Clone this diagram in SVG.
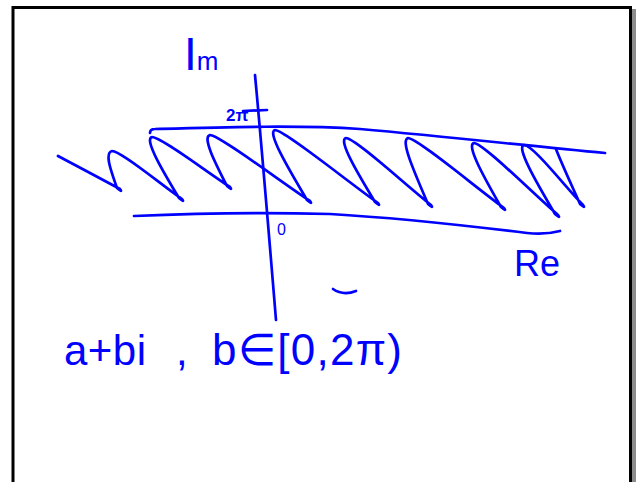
<svg xmlns="http://www.w3.org/2000/svg" width="639" height="482" viewBox="0 0 639 482">
<style>
.ink{fill:none;stroke:#0000ff;stroke-width:2.7;stroke-linecap:round;stroke-linejoin:round}
.hw{fill:#0000ff;font-family:"Liberation Sans","DejaVu Sans",sans-serif}
</style>
<rect width="639" height="482" fill="#ffffff"/>
<g id="frame">
<rect x="632" y="9" width="4" height="473" fill="#8c8c8c"/>
<path d="M13,482 V7.5 H631.5" fill="none" stroke="#000" stroke-width="3"/>
<path d="M630.5,6 V482" fill="none" stroke="#000" stroke-width="3"/>
</g>
<g id="axes">
<path class="ink" d="M255,75 Q262,150 276,320"/>
<path class="ink" d="M243,111 L267,110"/>
</g>
<g id="strip-bounds">
<path class="ink" d="M150,133 Q150,129 155,129 C230,127 300,125 360,129 C450,137 530,146 605,153"/>
<path class="ink" d="M134,216 C200,213 260,212 330,214 C400,218 470,226 527,233 Q545,235 560,231"/>
</g>
<g id="zigzag">
<path class="ink" d="M58,156 C78,166.5 101.4,179.1 120,189 Q123,193 117,188 C111.5,172 104,153 112,151 C121,151 161,184.6 182,199 Q185,203 179,198 C161.4,168.8 144,139 152,137 C161,137 206.6,172 230,187 Q233,191 227,186 C214.9,162.4 202,137 210,135 C219,135 280,181.2 310,201 Q313,205 307,200 C286.7,165.9 267,132 275,130 C284,130 347.1,181.1 378,203 Q381,207 375,202 C356.3,171.2 338,140 346,138 C355,138 405.5,184.9 431,205 Q434,209 428,204 C414.3,172.1 400,140 408,138 C417,138 475.2,187 504,208 Q507,212 501,207 C483.4,176.2 466,145 474,143 C483,143 532.8,193.4 558,215 Q561,219 555,214 C535.2,180.5 516,147 524,145 C533,145 565.3,187 583,205 Q586,209 580,204 C572,186 560,160 556,149"/>
</g>
<g id="mark">
<path class="ink" d="M333,289 Q343,296 356,291"/>
</g>
<g id="labels">
<text class="hw" x="184" y="70"><tspan font-size="46">I</tspan><tspan font-size="26">m</tspan></text>
<text class="hw" x="226" y="121" font-size="17" font-weight="bold">2π</text>
<text class="hw" x="277" y="235" font-size="16">0</text>
<text class="hw" x="514" y="276" font-size="36">Re</text>
<text class="hw" x="64" y="365" font-size="42" textLength="82" lengthAdjust="spacing">a+bi</text>
<text class="hw" x="176" y="365" font-size="42">,</text>
<text class="hw" x="212" y="365" font-size="44" textLength="190" lengthAdjust="spacing">b∈[0,2π)</text>
</g>
</svg>
